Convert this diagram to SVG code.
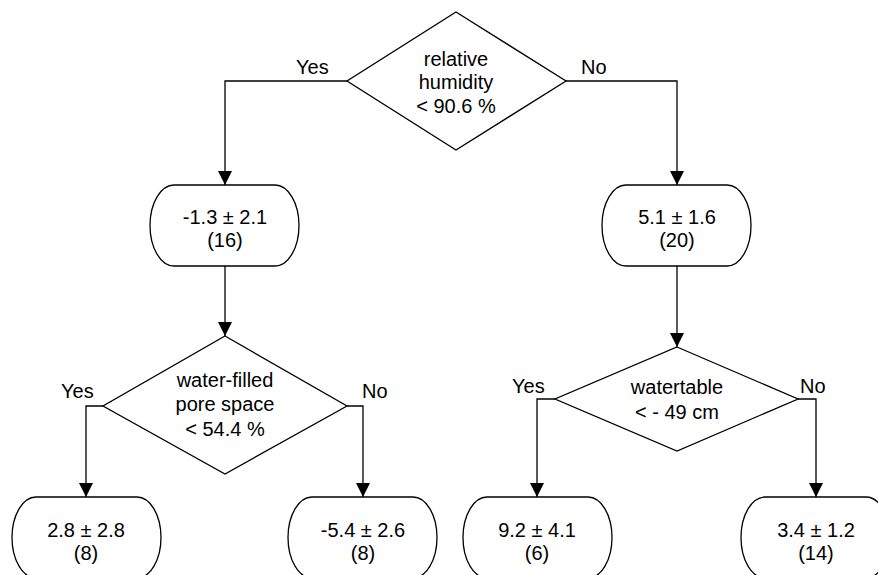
<svg xmlns="http://www.w3.org/2000/svg" width="878" height="575" viewBox="0 0 878 575">
<defs>
<style>
.shape{fill:#ffffff;stroke:#000000;stroke-width:1.3}
.conn{fill:none;stroke:#000000;stroke-width:1.3}
text{font-family:"Liberation Sans",Arial,sans-serif;font-size:20px;fill:#000000}
.c{text-anchor:middle}
</style>
<marker id="arr" markerUnits="userSpaceOnUse" markerWidth="16" markerHeight="16" refX="14" refY="7" orient="auto">
<path d="M0,0 L14,7 L0,14 Z" fill="#000000"/>
</marker>
</defs>
<rect width="878" height="575" fill="#ffffff"/>
<g id="connectors">
<path class="conn" d="M347,81 H225 V185" marker-end="url(#arr)"/>
<path class="conn" d="M566,81 H677 V185" marker-end="url(#arr)"/>
<path class="conn" d="M225,266 V336" marker-end="url(#arr)"/>
<path class="conn" d="M677,266 V347" marker-end="url(#arr)"/>
<path class="conn" d="M103,406 H86 V497" marker-end="url(#arr)"/>
<path class="conn" d="M347,406 H363 V497" marker-end="url(#arr)"/>
<path class="conn" d="M555,399 H537 V497" marker-end="url(#arr)"/>
<path class="conn" d="M798,399 H816 V497" marker-end="url(#arr)"/>
<text x="296" y="74">Yes</text>
<text x="581" y="74">No</text>
<text x="61" y="398">Yes</text>
<text x="362" y="398">No</text>
<text x="512" y="393">Yes</text>
<text x="800" y="393">No</text>
</g>
<g id="n_humidity">
<polygon class="shape" points="456,12 566,81 456,150 347,81"/>
<text class="c" x="456" y="66">relative</text>
<text class="c" x="456" y="89">humidity</text>
<text class="c" x="456" y="113">&lt; 90.6 %</text>
</g>
<g id="n_left">
<path class="shape" d="M174,185 H275 A24,40.5 0 0 1 275,266 H174 A24,40.5 0 0 1 174,185 Z"/>
<text class="c" x="225" y="224">-1.3 ± 2.1</text>
<text class="c" x="225" y="247">(16)</text>
</g>
<g id="n_right">
<path class="shape" d="M626,185 H727 A24,40.5 0 0 1 727,266 H626 A24,40.5 0 0 1 626,185 Z"/>
<text class="c" x="677" y="224">5.1 ± 1.6</text>
<text class="c" x="677" y="247">(20)</text>
</g>
<g id="n_wfps">
<polygon class="shape" points="225,336 347,406 225,474 103,406"/>
<text class="c" x="225" y="387">water-filled</text>
<text class="c" x="225" y="411">pore space</text>
<text class="c" x="225" y="436">&lt; 54.4 %</text>
</g>
<g id="n_watertable">
<polygon class="shape" points="677,347 798,399 677,451 555,399"/>
<text class="c" x="677" y="394">watertable</text>
<text class="c" x="677" y="419">&lt; - 49 cm</text>
</g>
<g id="n_leaf1">
<path class="shape" d="M36,497 H137 A24,40.5 0 0 1 137,578 H36 A24,40.5 0 0 1 36,497 Z"/>
<text class="c" x="86" y="537">2.8 ± 2.8</text>
<text class="c" x="86" y="560">(8)</text>
</g>
<g id="n_leaf2">
<path class="shape" d="M312,497 H413 A24,40.5 0 0 1 413,578 H312 A24,40.5 0 0 1 312,497 Z"/>
<text class="c" x="363" y="537">-5.4 ± 2.6</text>
<text class="c" x="363" y="560">(8)</text>
</g>
<g id="n_leaf3">
<path class="shape" d="M487,497 H588 A24,40.5 0 0 1 588,578 H487 A24,40.5 0 0 1 487,497 Z"/>
<text class="c" x="537" y="537">9.2 ± 4.1</text>
<text class="c" x="537" y="560">(6)</text>
</g>
<g id="n_leaf4">
<path class="shape" d="M765,497 H866 A24,40.5 0 0 1 866,578 H765 A24,40.5 0 0 1 765,497 Z"/>
<text class="c" x="816" y="537">3.4 ± 1.2</text>
<text class="c" x="816" y="560">(14)</text>
</g>
</svg>
